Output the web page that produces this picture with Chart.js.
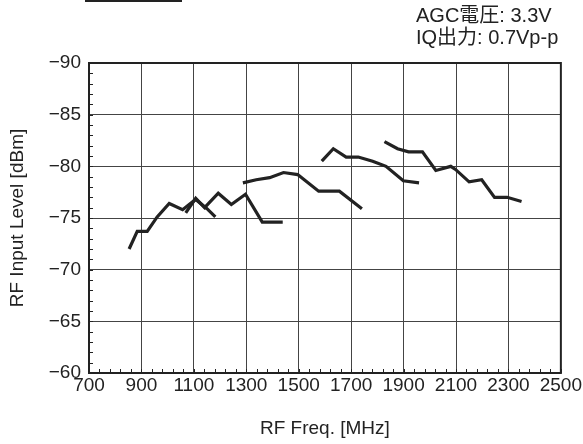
<!DOCTYPE html>
<html>
<head>
<meta charset="utf-8">
<script src="https://cdn.jsdelivr.net/npm/chart.js@4/dist/chart.umd.min.js"></script>
<style>
  body { margin: 0; background: #fff; }
  #wrap { position: relative; width: 583px; height: 444px; }
  #topline { position: absolute; left: 85px; top: 0; width: 97px; height: 2px; background: #222; }
  #note { position: absolute; left: 416px; top: 4px; font: 20px "Liberation Sans", "Noto Sans CJK JP", sans-serif; line-height: 22px; color: #222; }
</style>
</head>
<body>
<div id="wrap">
  <canvas id="chart" width="583" height="444"></canvas>
  <div id="topline"></div>
  <div id="note">AGC電圧: 3.3V<br>IQ出力: 0.7Vp-p</div>
</div>
<script>
// measured curves, one per band
let freq1 = [853, 884, 922, 960, 1006, 1057, 1107, 1150, 1182];
let level1 = [-72.0, -73.7, -73.7, -75.1, -76.4, -75.8, -76.8, -75.9, -75.1];

let freq2 = [1069, 1107, 1141, 1193, 1243, 1297, 1361, 1439];
let level2 = [-75.5, -76.9, -76.0, -77.4, -76.3, -77.3, -74.6, -74.6];

let freq3 = [1287, 1338, 1389, 1442, 1496, 1576, 1655, 1741];
let level3 = [-78.4, -78.7, -78.9, -79.4, -79.2, -77.6, -77.6, -75.9];

let freq4 = [1588, 1632, 1681, 1727, 1782, 1833, 1899, 1959];
let level4 = [-80.5, -81.7, -80.9, -80.9, -80.5, -80.0, -78.6, -78.4];

let freq5 = [1827, 1877, 1919, 1972, 2023, 2080, 2098, 2150, 2198, 2247, 2295, 2350];
let level5 = [-82.4, -81.7, -81.4, -81.4, -79.6, -80.0, -79.7, -78.5, -78.7, -77.0, -77.0, -76.6];

let xTicks = [700, 900, 1100, 1300, 1500, 1700, 1900, 2100, 2300, 2500];
let yTicks = [-90, -85, -80, -75, -70, -65, -60];

function toPoints(xs, ys) {
  return xs.map((x, i) => ({ x: x, y: ys[i] }));
}

let curves = [[freq1, level1], [freq2, level2], [freq3, level3], [freq4, level4], [freq5, level5]];
let datasets = curves.map(c => ({
  data: toPoints(c[0], c[1]),
  showLine: true,
  borderColor: "#222",
  borderWidth: 3.2,
  pointRadius: 0,
  tension: 0,
  fill: false,
}));

let font = { family: "'Liberation Sans', Arial, sans-serif", size: 19 };

// frame + inner minor ticks
let framePlugin = {
  id: "frame",
  afterDraw(chart) {
    let c = chart.ctx;
    let a = chart.chartArea;
    let xs = chart.scales.x;
    let ys = chart.scales.y;
    c.save();
    c.strokeStyle = "#222";
    c.lineWidth = 1;
    for (let v = 700; v <= 2500; v += 40) {
      let px = Math.round(xs.getPixelForValue(v)) + 0.5;
      c.beginPath();
      c.moveTo(px, a.bottom);
      c.lineTo(px, a.bottom - 4);
      c.stroke();
    }
    for (let v = -90; v <= -60; v += 1) {
      let py = Math.round(ys.getPixelForValue(v)) + 0.5;
      c.beginPath();
      c.moveTo(a.left, py);
      c.lineTo(a.left + 4, py);
      c.stroke();
    }
    c.lineWidth = 2;
    c.strokeRect(a.left, a.top, a.right - a.left, a.bottom - a.top);
    c.restore();
  },
};

new Chart(document.getElementById("chart"), {
  type: "scatter",
  data: { datasets: datasets },
  options: {
    responsive: false,
    animation: false,
    layout: { padding: { left: 0, top: 63, right: 21, bottom: 0 } },
    plugins: { legend: { display: false }, tooltip: { enabled: false } },
    scales: {
      x: {
        type: "linear",
        min: 700,
        max: 2500,
        afterBuildTicks: s => { s.ticks = xTicks.map(v => ({ value: v })); },
        afterFit: s => { s.height = 71; },
        ticks: { color: "#222", font: font, padding: 1, maxRotation: 0, callback: v => String(v) },
        grid: { color: "#444", lineWidth: 1, drawTicks: false },
        border: { display: false },
        title: { display: true, text: "RF Freq. [MHz]", color: "#222", font: font, padding: { top: 14 } },
      },
      y: {
        type: "linear",
        min: -90,
        max: -60,
        reverse: true,
        afterBuildTicks: s => { s.ticks = yTicks.map(v => ({ value: v })); },
        afterFit: s => { s.width = 89; },
        ticks: { color: "#222", font: font, padding: 8, callback: v => String(v).replace("-", "\u2212") },
        grid: { color: "#444", lineWidth: 1, drawTicks: false },
        border: { display: false },
        title: { display: true, text: "RF Input Level [dBm]", color: "#222", font: font, padding: { top: 6, bottom: 0 } },
      },
    },
  },
  plugins: [framePlugin],
});
</script>
</body>
</html>
